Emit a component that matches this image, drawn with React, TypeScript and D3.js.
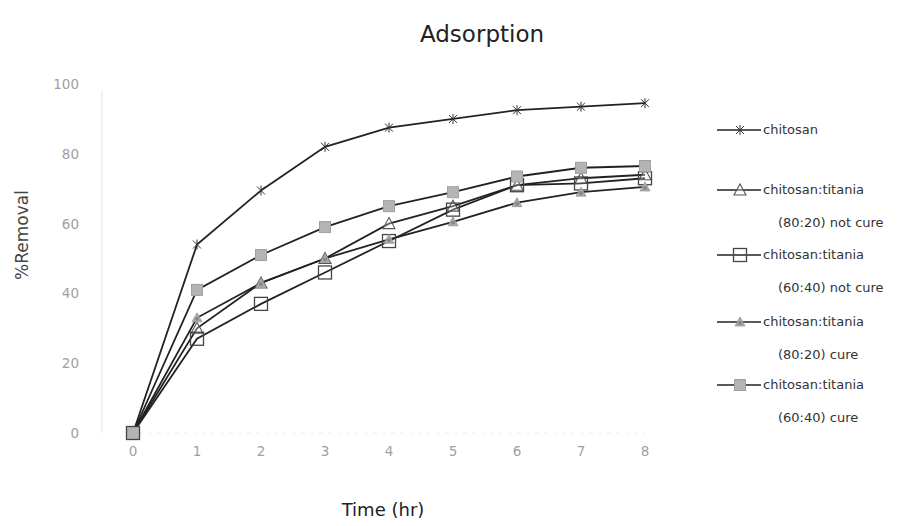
import React from "react";
import * as d3 from "d3";

const times = [0, 1, 2, 3, 4, 5, 6, 7, 8];
const chitosan = [0, 54, 69.5, 82, 87.5, 90, 92.5, 93.5, 94.5];
const ct8020NotCure = [0, 30, 43, 50, 60, 65, 71, 73, 74];
const ct6040NotCure = [0, 27, 37, 46, 55, 64, 71, 71.5, 73];
const ct8020Cure = [0, 33, 43, 50, 55.5, 60.5, 66, 69, 70.5];
const ct6040Cure = [0, 41, 51, 59, 65, 69, 73.5, 76, 76.5];
const yTicks = [0, 20, 40, 60, 80, 100];
const xTicks = [0, 1, 2, 3, 4, 5, 6, 7, 8];

const legendLines = [
  ["chitosan"],
  ["chitosan:titania", "(80:20) not cure"],
  ["chitosan:titania", "(60:40) not cure"],
  ["chitosan:titania", "(80:20) cure"],
  ["chitosan:titania", "(60:40) cure"],
];

type MarkerKind = "star" | "triangle" | "square" | "grayStar" | "graySquare";

const seriesList: { values: number[]; marker: MarkerKind }[] = [
  { values: chitosan, marker: "star" },
  { values: ct8020NotCure, marker: "triangle" },
  { values: ct6040NotCure, marker: "square" },
  { values: ct8020Cure, marker: "grayStar" },
  { values: ct6040Cure, marker: "graySquare" },
];

function Marker({ kind, x, y }: { kind: MarkerKind; x: number; y: number }) {
  if (kind === "star") {
    return (
      <g stroke="#333" strokeWidth={1} fill="none">
        <line x1={x - 4} y1={y - 4} x2={x + 4} y2={y + 4} />
        <line x1={x - 4} y1={y + 4} x2={x + 4} y2={y - 4} />
        <line x1={x} y1={y - 5} x2={x} y2={y + 5} />
      </g>
    );
  }
  if (kind === "triangle") {
    return (
      <path
        d={`M${x},${y - 6}L${x + 6},${y + 5}L${x - 6},${y + 5}Z`}
        fill="#fff"
        fillOpacity={0.3}
        stroke="#555"
        strokeWidth={1.1}
      />
    );
  }
  if (kind === "square") {
    return <rect x={x - 6.5} y={y - 6.5} width={13} height={13} fill="none" stroke="#444" strokeWidth={1.3} />;
  }
  if (kind === "grayStar") {
    return (
      <g>
        <path d={`M${x},${y - 5}L${x + 5},${y + 4}L${x - 5},${y + 4}Z`} fill="#aaa" stroke="#999" strokeWidth={0.8} />
        <circle cx={x} cy={y + 1} r={2} fill="#888" />
      </g>
    );
  }
  return <rect x={x - 5.5} y={y - 5.5} width={11} height={11} fill="#b4b4b4" stroke="#a0a0a0" strokeWidth={1} />;
}

export default function App() {
  const width = 908;
  const height = 526;
  const x = d3.scaleLinear().domain([0, 8]).range([133, 645]);
  const y = d3.scaleLinear().domain([0, 100]).range([433, 84]);
  const line = d3
    .line<number>()
    .x((_, i) => x(times[i]))
    .y((d) => y(d));

  const font = "'DejaVu Sans', Verdana, sans-serif";

  const legendX = 717;
  const legendY = [130, 190, 255, 322, 385];

  return (
    <svg
      width={width}
      height={height}
      style={{ position: "absolute", left: 0, top: 0, background: "#fff" }}
      fontFamily={font}
    >
      <rect width={width} height={height} fill="#fff" />
      <text x={482} y={42} textAnchor="middle" fontSize={23} fill="#222">
        Adsorption
      </text>

      {/* faint axes */}
      <line x1={102} y1={y(98)} x2={102} y2={y(0)} stroke="#e4e4e4" strokeWidth={1} />
      <line x1={x(0.1)} y1={y(0)} x2={x(8)} y2={y(0)} stroke="#ececec" strokeWidth={1} strokeDasharray="3,6" />

      {yTicks.map((t) => (
        <text key={t} x={79} y={y(t) + 5} textAnchor="end" fontSize={13.5} fill="#a0a0a0">
          {t}
        </text>
      ))}
      {xTicks.map((t) => (
        <text key={t} x={x(t)} y={456} textAnchor="middle" fontSize={13.5} fill="#a0a0a0">
          {t}
        </text>
      ))}

      <text
        transform={`translate(28,235) rotate(-90)`}
        textAnchor="middle"
        fontSize={17}
        fill="#444"
      >
        %Removal
      </text>
      <text x={383} y={516} textAnchor="middle" fontSize={18} fill="#222">
        Time (hr)
      </text>

      {seriesList.map((s, i) => (
        <path key={i} d={line(s.values) || ""} fill="none" stroke="#222" strokeWidth={1.8} />
      ))}
      {seriesList.map((s, i) => (
        <g key={"m" + i}>
          {s.values.map((v, j) => (
            <Marker key={j} kind={s.marker} x={x(times[j])} y={y(v)} />
          ))}
        </g>
      ))}

      {legendLines.map((lines, i) => (
        <g key={"l" + i}>
          <line x1={legendX} y1={legendY[i]} x2={legendX + 44} y2={legendY[i]} stroke="#222" strokeWidth={1.6} />
          <Marker kind={seriesList[i].marker} x={legendX + 23} y={legendY[i]} />
          <text x={legendX + 46} y={legendY[i] + 4} fontSize={13} fill="#333">
            {lines[0]}
          </text>
          {lines[1] && (
            <text x={legendX + 61} y={legendY[i] + 37} fontSize={13} fill="#333">
              {lines[1]}
            </text>
          )}
        </g>
      ))}
    </svg>
  );
}
